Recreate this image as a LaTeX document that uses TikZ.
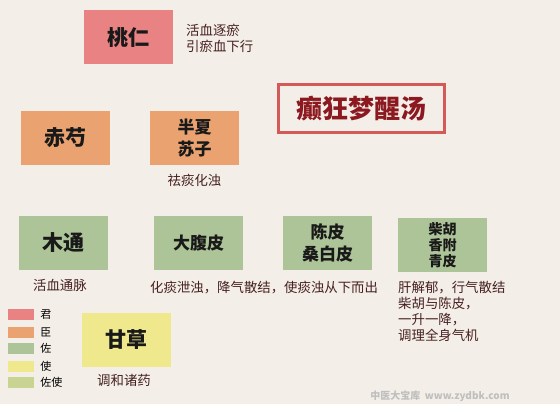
\documentclass[tikz,border=0pt]{standalone}
\usepackage{fontspec}
\setmainfont{Noto Sans CJK SC}
\usetikzlibrary{positioning}
\definecolor{paper}{RGB}{243,239,232}
\definecolor{jun}{RGB}{233,130,130}
\definecolor{chen}{RGB}{233,162,112}
\definecolor{zuo}{RGB}{172,196,152}
\definecolor{shi}{RGB}{240,232,140}
\definecolor{zuoshi}{RGB}{202,212,146}
\definecolor{titlered}{RGB}{140,25,32}
\definecolor{framered}{RGB}{212,90,90}
\definecolor{notetext}{RGB}{70,32,32}
\tikzset{
  herb/.style={minimum width=89pt,minimum height=54pt,inner sep=0pt,align=center,
    text=black!90,font=\fontsize{21}{22}\selectfont\bfseries},
  note/.style={inner sep=0pt,align=left,text=notetext,font=\fontsize{13.4}{16}\selectfont},
  key/.style={minimum width=26pt,minimum height=11pt,inner sep=0pt}
}
\begin{document}
\begin{tikzpicture}[x=1pt,y=-1pt]
  \fill[paper] (0,0) rectangle (560,404);
  \useasboundingbox (0,0) rectangle (560,404);
  \node[herb,fill=jun] (taoren) at (128.5,37.5) {桃仁};
  \node[note,anchor=west] (taorenNote) at (186,38) {活血逐瘀\\引瘀血下行};
  \node[draw=framered,line width=3pt,minimum width=166pt,minimum height=47pt,
    text=titlered,font=\fontsize{26}{28}\selectfont\bfseries] (title) at (361,108.5) {癫狂梦醒汤};
  \node[herb,fill=chen] (chishao) at (65.5,138) {赤芍};
  \node[herb,fill=chen,font=\fontsize{17}{22}\selectfont\bfseries] (banxia) at (194.5,138) {半夏\\苏子};
  \node[note,below=9pt of banxia] (banxiaNote) {祛痰化浊};
  \node[herb,fill=zuo] (mutong) at (63.5,243) {木通};
  \node[note] (mutongNote) at (60,285) {活血通脉};
  \node[herb,fill=zuo,font=\fontsize{17}{22}\selectfont\bfseries] (dafupi) at (198.5,243) {大腹皮};
  \node[herb,fill=zuo,font=\fontsize{17}{22}\selectfont\bfseries] (chenpi) at (327.5,243) {陈皮\\桑白皮};
  \node[herb,fill=zuo,font=\fontsize{14}{16}\selectfont\bfseries] (chaihu) at (442.5,245) {柴胡\\香附\\青皮};
  \node[note,anchor=west] (dafupiNote) at (150,288) {化痰泄浊，降气散结，使痰浊从下而出};
  \node[note,anchor=north west] (chaihuNote) at (398,281)
    {肝解郁，行气散结\\柴胡与陈皮，\\一升一降，\\调理全身气机};
  \node[herb,fill=shi] (gancao) at (126.5,339.5) {甘草};
  \node[note] (gancaoNote) at (124,380) {调和诸药};
  \foreach \c/\t/\y in {jun/君/314.5,chen/臣/332.5,zuo/佐/348.5,shi/使/366.5,zuoshi/佐使/382.5}{
    \node[key,fill=\c] (key\c) at (21,\y) {};
    \node[anchor=west,inner sep=0pt,font=\fontsize{11}{12}\selectfont,right=6pt of key\c] {\t};
  }
  \node[text=black!25,font=\fontsize{10}{12}\selectfont\bfseries] (mark) at (440,396) {中医大宝库\ \ www.zydbk.com};
\end{tikzpicture}
\end{document}
